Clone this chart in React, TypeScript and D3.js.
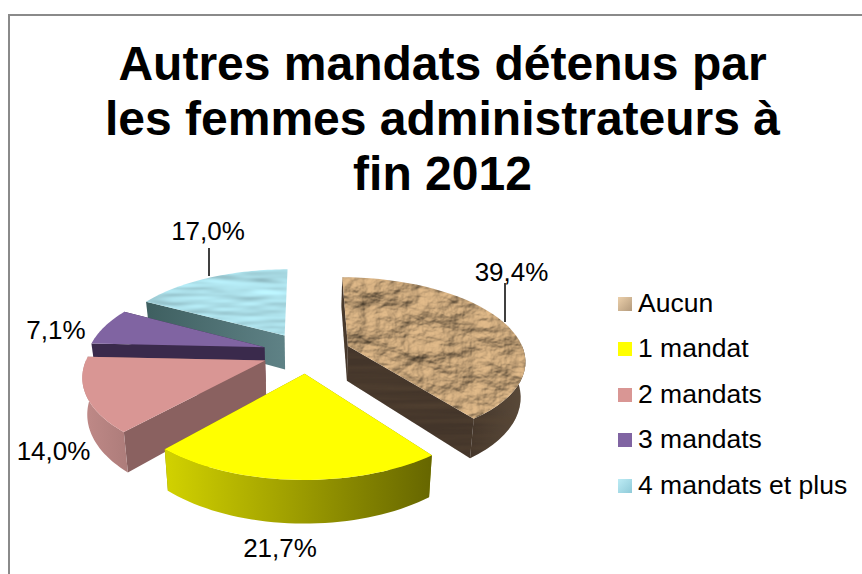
import React from "react";
import * as d3 from "d3";

const categories = ["Aucun", "1 mandat", "2 mandats", "3 mandats", "4 mandats et plus"];
const values = [39.4, 21.7, 14.0, 7.1, 17.0];
const valueLabels = ["39,4%", "21,7%", "14,0%", "7,1%", "17,0%"];
const titleLines = ["Autres mandats détenus par", "les femmes administrateurs à", "fin 2012"];

const WIDTH = 862;
const HEIGHT = 574;
const FONT = '"Liberation Sans", Arial, sans-serif';

const cx = 306.5, cy = 352.5, rx = 176.5, ry = 81.7, persp = 0.159, explode = 0.25, depth = 35;

type Style = { top: string; topFilter?: string; outer: string; radial: string; sideFilter?: string; swatch: string; skipEnd?: boolean };
const styles: Style[] = [
  { top: "#b8925f", topFilter: "url(#crumple)", outer: "url(#sideBrown)", radial: "#43352a", sideFilter: "url(#strata)", swatch: "url(#swBrown)" },
  { top: "#ffff00", outer: "url(#sideYellow)", radial: "#8a8a00", swatch: "#ffff00" },
  { top: "#d99694", outer: "url(#sidePink)", radial: "#8a6160", swatch: "#d99694" },
  { top: "#8064a2", outer: "#4a3a5e", radial: "#3a2a4c", swatch: "#8064a2" },
  { top: "#b2e5ef", topFilter: "url(#water)", outer: "#4f7376", radial: "url(#sideTeal)", swatch: "url(#swTeal)", skipEnd: true },
];
const drawOrder = [4, 3, 2, 0, 1];
const labelPos: [number, number][] = [[511.5, 281], [280, 557], [53.5, 460], [56, 339], [208, 240]];
const leaders: [number, number, number][] = [[505, 283, 322], [209, 248, 276]];
const legendY = [297, 342, 388, 433, 479];

function project(X: number, Y: number, z: number): [number, number] {
  const w = 1 - persp * Y;
  const shrink = 1 - 0.022 * z;
  return [cx + (rx * X * shrink) / w, cy + (ry * Y) / w + (z * depth) / w];
}

const lineGen = d3.line<[number, number]>().curve(d3.curveLinear);
const arcs = d3.pie<number>().sort(null).value((d) => d)(values);

function Slice({ i }: { i: number }) {
  const a = arcs[i];
  const st = styles[i];
  const mid = (a.startAngle + a.endAngle) / 2;
  const ox = explode * Math.sin(mid);
  const oy = -explode * Math.cos(mid);
  const angles = d3.range(0, 41).map((k) => a.startAngle + ((a.endAngle - a.startAngle) * k) / 40);
  const ground = angles.map((t) => [ox + Math.sin(t), oy - Math.cos(t)] as [number, number]);
  const top = ground.map((g) => project(g[0], g[1], 0));
  const bottom = ground.map((g) => project(g[0], g[1], 1));
  const apexT = project(ox, oy, 0);
  const apexB = project(ox, oy, 1);
  const topPath = lineGen([apexT, ...top])! + "Z";
  const frontIdx = d3.range(0, 41).filter((k) => Math.cos(angles[k]) < 0.02);
  const outerPath = frontIdx.length
    ? lineGen([...frontIdx.map((k) => top[k]), ...frontIdx.slice().reverse().map((k) => bottom[k])])! + "Z"
    : null;
  const radial = (idx: number) => lineGen([apexT, top[idx], bottom[idx], apexB])! + "Z";
  const faces = [{ d: radial(0), y: (ground[0][1] + oy) / 2 }];
  if (!st.skipEnd) faces.push({ d: radial(40), y: (ground[40][1] + oy) / 2 });
  faces.sort((p, q) => p.y - q.y);
  return (
    <g>
      {faces.map((f, k) => (
        <path key={k} d={f.d} fill={st.radial} filter={st.sideFilter} />
      ))}
      {outerPath && <path d={outerPath} fill={st.outer} filter={st.sideFilter} />}
      <path d={topPath} fill={st.top} filter={st.topFilter} />
    </g>
  );
}

export default function App() {
  return (
    <svg width={WIDTH} height={HEIGHT} style={{ position: "absolute", left: 0, top: 0, background: "#fff" }} fontFamily={FONT}>
      <defs>
        <filter id="crumple" x="0" y="0" width="100%" height="100%" colorInterpolationFilters="sRGB">
          <feTurbulence type="fractalNoise" baseFrequency="0.035 0.05" numOctaves="6" seed="23" result="n" />
          <feDiffuseLighting in="n" surfaceScale="4.5" diffuseConstant="1.12" lightingColor="#cba87c" result="l">
            <feDistantLight azimuth="235" elevation="58" />
          </feDiffuseLighting>
          <feComposite in="l" in2="SourceGraphic" operator="in" />
        </filter>
        <filter id="water" x="0" y="0" width="100%" height="100%" colorInterpolationFilters="sRGB">
          <feTurbulence type="fractalNoise" baseFrequency="0.02 0.09" numOctaves="2" seed="4" result="n" />
          <feDiffuseLighting in="n" surfaceScale="1.2" diffuseConstant="1.12" lightingColor="#aee2ec" result="l">
            <feDistantLight azimuth="90" elevation="62" />
          </feDiffuseLighting>
          <feComposite in="l" in2="SourceGraphic" operator="in" />
        </filter>
        <filter id="strata" x="0" y="0" width="100%" height="100%" colorInterpolationFilters="sRGB">
          <feTurbulence type="fractalNoise" baseFrequency="0.006 0.12" numOctaves="3" seed="8" result="n" />
          <feColorMatrix in="n" type="matrix" values="0 0 0 0 0.34  0 0 0 0 0.27  0 0 0 0 0.2  1.2 0 0 0 -0.35" result="c" />
          <feComposite in="c" in2="SourceGraphic" operator="in" result="s" />
          <feMerge>
            <feMergeNode in="SourceGraphic" />
            <feMergeNode in="s" />
          </feMerge>
        </filter>
        <linearGradient id="sideBrown" x1="0" y1="0" x2="1" y2="0">
          <stop offset="0" stopColor="#43352a" />
          <stop offset="1" stopColor="#5c4c3c" />
        </linearGradient>
        <linearGradient id="sideYellow" x1="0" y1="0" x2="1" y2="0">
          <stop offset="0" stopColor="#d2d200" />
          <stop offset="1" stopColor="#666600" />
        </linearGradient>
        <linearGradient id="sidePink" x1="0" y1="0" x2="1" y2="0">
          <stop offset="0" stopColor="#c08a88" />
          <stop offset="1" stopColor="#ad7c7a" />
        </linearGradient>
        <linearGradient id="sideTeal" x1="0" y1="0" x2="1" y2="0">
          <stop offset="0" stopColor="#3e5f60" />
          <stop offset="1" stopColor="#5f8286" />
        </linearGradient>
        <linearGradient id="swBrown" x1="0" y1="0" x2="1" y2="1">
          <stop offset="0" stopColor="#ecd0ab" />
          <stop offset="1" stopColor="#b39a7c" />
        </linearGradient>
        <linearGradient id="swTeal" x1="0" y1="0" x2="1" y2="1">
          <stop offset="0" stopColor="#bdecf5" />
          <stop offset="1" stopColor="#8fcad8" />
        </linearGradient>
      </defs>

      <path d={`M9,${HEIGHT}V15H${WIDTH}`} fill="none" stroke="#8a8a8a" strokeWidth={2} />

      <text textAnchor="middle" fontWeight="bold" fontSize={48} fill="#000">
        {titleLines.map((t, i) => (
          <tspan key={i} x={442.5} y={80 + i * 55}>{t}</tspan>
        ))}
      </text>

      {drawOrder.map((i) => (
        <Slice key={i} i={i} />
      ))}

      {leaders.map(([x, y1, y2], i) => (
        <line key={i} x1={x} x2={x} y1={y1} y2={y2} stroke="#000" strokeWidth={1.5} />
      ))}

      {valueLabels.map((t, i) => (
        <text key={i} x={labelPos[i][0]} y={labelPos[i][1]} textAnchor="middle" fontSize={26} fill="#000">{t}</text>
      ))}

      {categories.map((c, i) => (
        <g key={c}>
          <rect x={618} y={legendY[i]} width={14} height={14} fill={styles[i].swatch} />
          <text x={638} y={legendY[i] + 15} fontSize={26.5} fill="#000">{c}</text>
        </g>
      ))}
    </svg>
  );
}
